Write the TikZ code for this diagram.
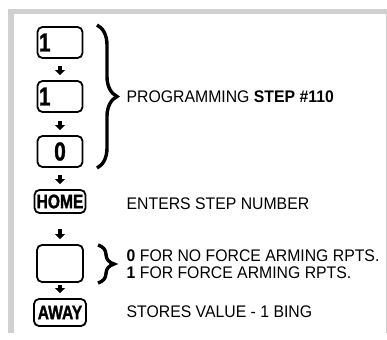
\documentclass[tikz,border=0pt]{standalone}
\usepackage{fontspec}
\setmainfont{Liberation Sans}
\newfontfamily\descfont[FakeStretch=0.94]{Liberation Sans}
\newfontfamily\keyfont[FakeStretch=0.8, BoldFeatures={FakeBold=1.3}]{Liberation Sans}
\usetikzlibrary{arrows.meta, decorations.pathreplacing, calc}
\definecolor{framegray}{RGB}{208,208,208}

\begin{document}
\begin{tikzpicture}[
    x=1pt, y=1pt,
    key/.style={draw, line width=1.8pt, rounded corners=5pt, inner sep=0pt,
        minimum width=45pt, minimum height=31pt},
    digit/.style={key, font=\keyfont\bfseries\fontsize{26}{26}\selectfont},
    word/.style={key, font=\keyfont\bfseries\fontsize{19.5}{20}\selectfont},
    desc/.style={anchor=west, inner sep=0pt, font=\descfont\fontsize{16.8}{17}\selectfont},
    key arrow/.style={-{Triangle[width=10pt, length=5pt]}, line width=3.5pt, shorten >=5pt},
    big brace/.style={decorate, decoration={brace, amplitude=#1}, line width=3.4pt}
]
\useasboundingbox (0,0) rectangle (387,-339);

% ==================== FRAME ====================
\fill[framegray] (7.5,-9) rectangle (386.5,-14);
\fill[framegray] (7.5,-9) rectangle (13.5,-333);
\fill[framegray] (385.5,-14) rectangle (386.7,-333);

% ==================== KEYS ====================
\node[digit, text width=42pt, align=left] (one a) at (60,-42.5) {1};
\node[digit, text width=42pt, align=left] (one b) at (60,-96.5) {1};
\node[digit] (zero) at (60,-151.5) {0};
\node[word, minimum width=51pt, minimum height=23pt] (home) at (60,-201.5) {HOME};
\node[key, minimum width=46pt, minimum height=37pt] (blank) at (60,-263.5) {};
\node[word, minimum width=52pt, minimum height=27pt] (away) at (60,-312.5) {AWAY};

% Arrows between keys
\draw[key arrow, shorten <=7pt] (one a) -- (one b);
\draw[key arrow, shorten <=8pt] (one b) -- (zero);
\draw[key arrow, shorten <=7pt] (zero) -- (home);
\draw[key arrow, shorten <=15pt] (home) -- (blank);
\draw[key arrow, shorten <=2pt] (blank) -- (away);

% ==================== BRACES ====================
\draw[big brace=20pt] (97,-25) -- (97,-168);
\draw[big brace=16pt] (98,-245) -- (98,-283);

% ==================== TEXTS ====================
\node[desc] (step) at (126.5,-97) {PROGRAMMING \textbf{STEP \#110}};
\node[desc] (enters) at (126.5,-204) {ENTERS STEP NUMBER};
\node[desc, align=left] (choice) at (126.5,-264.5)
    {\textbf{0} FOR NO FORCE ARMING RPTS.\\\textbf{1} FOR FORCE ARMING RPTS.};
\node[desc] (stores) at (126.5,-312) {STORES VALUE - 1 BING};

\end{tikzpicture}
\end{document}
